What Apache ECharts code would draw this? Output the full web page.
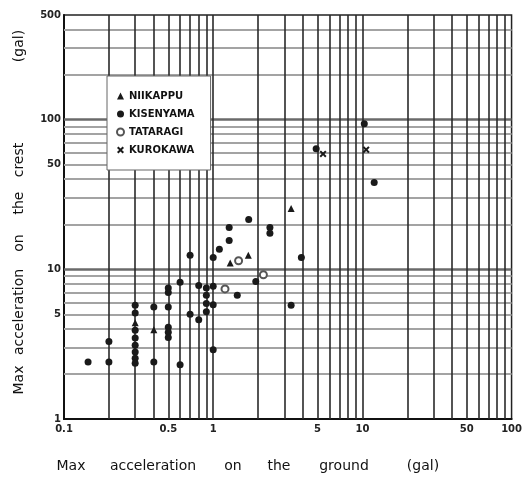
<!DOCTYPE html>
<html>
<head>
<meta charset="utf-8">
<script src="https://cdn.jsdelivr.net/npm/echarts@6/dist/echarts.min.js"></script>
<style>html,body{margin:0;padding:0;background:#fff}#c{width:525px;height:485px}</style>
</head>
<body>
<div id="c"></div>
<script>
// ---- data (gal) ----
const seriesNames = ['NIIKAPPU', 'KISENYAMA', 'TATARAGI', 'KUROKAWA'];
const niikappu = [[0.3, 4.4], [0.4, 3.95], [1.3, 11.0], [1.72, 12.4], [3.33, 25.5]];
const kisenyama = [
  [0.145, 2.4],
  [0.2, 2.4], [0.2, 3.3],
  [0.3, 5.75], [0.3, 5.1], [0.3, 3.92], [0.3, 3.47], [0.3, 3.11], [0.3, 2.8], [0.3, 2.55], [0.3, 2.36],
  [0.4, 5.6], [0.4, 2.4],
  [0.5, 7.5], [0.5, 7.0], [0.5, 5.6], [0.5, 4.1], [0.5, 3.8], [0.5, 3.5],
  [0.6, 8.2], [0.6, 2.3],
  [0.7, 12.4], [0.7, 5.0],
  [0.8, 7.8], [0.8, 4.6],
  [0.9, 7.5], [0.9, 6.7], [0.9, 5.9], [0.9, 5.2],
  [1.0, 12.0], [1.0, 7.7], [1.0, 5.8], [1.0, 2.9],
  [1.1, 13.6], [1.28, 19], [1.28, 15.6], [1.73, 21.5], [1.45, 6.7], [1.93, 8.3],
  [2.4, 19], [2.4, 17.4], [3.33, 5.75], [3.9, 12], [4.9, 64], [10.3, 94], [12, 38]
];
const tataragi = [[1.2, 7.4], [1.48, 11.4], [2.17, 9.2]];
const kurokawa = [[5.45, 59], [10.6, 63]];
const xGridValues = [0.2, 0.3, 0.4, 0.5, 0.6, 0.7, 0.8, 0.9, 1, 2, 3, 4, 5, 6, 7, 8, 9, 10, 20, 30, 40, 50, 60, 70, 80, 90];
const yGridValues = [2, 3, 4, 5, 6, 7, 8, 9, 10, 20, 30, 40, 50, 60, 70, 80, 90, 100, 200, 300, 400];
const xTickLabels = [0.1, 0.5, 1, 5, 10, 50, 100];
const yTickLabels = [1, 5, 10, 50, 100, 500];
const xTitleWords = ['Max', 'acceleration', 'on', 'the', 'ground', '(gal)'];
const yTitleWords = ['Max', 'acceleration', 'on', 'the', 'crest', '(gal)'];

// ---- layout ----
const xWordPos = [71, 153, 233, 279, 344, 423];
const yWordPos = [380, 312, 243, 203, 160, 46];
const FONT = 'DejaVu Sans';
const crossPath = 'path://M0,2L2,0L5,3L8,0L10,2L7,5L10,8L8,10L5,7L2,10L0,8L3,5Z';

const chart = echarts.init(document.getElementById('c'), null, {renderer: 'canvas'});

const graphics = [];
xTitleWords.forEach((w, i) => graphics.push({
  type: 'text', x: xWordPos[i], y: 466, silent: true,
  style: {text: w, font: '14px "' + FONT + '"', fill: '#111', align: 'center', verticalAlign: 'middle'}
}));
yTitleWords.forEach((w, i) => graphics.push({
  type: 'text', x: 19, y: yWordPos[i], rotation: Math.PI / 2, silent: true,
  style: {text: w, font: '14px "' + FONT + '"', fill: '#111', align: 'center', verticalAlign: 'middle'}
}));

const vLines = xGridValues.map(v => ({xAxis: v}));
const hLines = yGridValues.map(v => (v === 10 || v === 100)
  ? {yAxis: v, lineStyle: {color: '#6a6a6a', width: 2.6, type: 'solid'}}
  : {yAxis: v});

chart.setOption({
  animation: false,
  backgroundColor: '#fff',
  grid: {left: 64, top: 15, right: 8, bottom: 66, show: true, borderColor: '#222', borderWidth: 1.5, backgroundColor: 'transparent'},
  xAxis: {
    type: 'log', logBase: 10, min: 0.1, max: 100,
    axisLine: {show: true, onZero: false, lineStyle: {color: '#111', width: 2}},
    axisTick: {show: false},
    splitLine: {show: false},
    axisLabel: {
      customValues: xTickLabels, margin: 5, color: '#222', fontFamily: FONT, fontSize: 10, fontWeight: 'bold',
      formatter: v => String(+(+v).toPrecision(3))
    }
  },
  yAxis: {
    type: 'log', logBase: 10, min: 1, max: 500,
    axisLine: {show: true, onZero: false, lineStyle: {color: '#111', width: 2}},
    axisTick: {show: false},
    splitLine: {show: false},
    axisLabel: {
      customValues: yTickLabels, margin: 3, color: '#222', fontFamily: FONT, fontSize: 10, fontWeight: 'bold',
      formatter: v => String(+(+v).toPrecision(3))
    }
  },
  legend: {
    data: seriesNames.map(n => ({name: n})),
    orient: 'vertical', left: 107, top: 76, z: 10,
    padding: [15, 16, 15, 9], itemGap: 8, itemWidth: 7, itemHeight: 7,
    backgroundColor: '#fff', borderColor: '#666', borderWidth: 1,
    textStyle: {fontFamily: FONT, fontSize: 10, fontWeight: 'bold', color: '#111'},
    selectedMode: false
  },
  graphic: graphics,
  series: [
    {
      name: 'gridH', type: 'scatter', data: [], silent: true, z: 1,
      markLine: {z: 1, silent: true, symbol: 'none', label: {show: false}, animation: false,
        lineStyle: {color: '#a3a3a3', width: 2, type: 'solid'}, data: hLines}
    },
    {
      name: 'gridV', type: 'scatter', data: [], silent: true, z: 1,
      markLine: {z: 1, silent: true, symbol: 'none', label: {show: false}, animation: false,
        lineStyle: {color: '#2a2a2a', width: 1.6, type: 'solid'}, data: vLines}
    },
    {name: 'NIIKAPPU', type: 'scatter', data: niikappu, symbol: 'triangle', symbolSize: 7, z: 3,
      itemStyle: {color: '#1a1a1a', opacity: 1}},
    {name: 'KISENYAMA', type: 'scatter', data: kisenyama, symbol: 'circle', symbolSize: 7, z: 3,
      itemStyle: {color: '#1a1a1a', opacity: 1}},
    {name: 'TATARAGI', type: 'scatter', data: tataragi, symbol: 'circle', symbolSize: 7, z: 3,
      itemStyle: {color: '#ffffff', borderColor: '#555', borderWidth: 2, opacity: 1}},
    {name: 'KUROKAWA', type: 'scatter', data: kurokawa, symbol: crossPath, symbolSize: 7, z: 3,
      itemStyle: {color: '#1a1a1a', opacity: 1}}
  ]
});
</script>
</body>
</html>
